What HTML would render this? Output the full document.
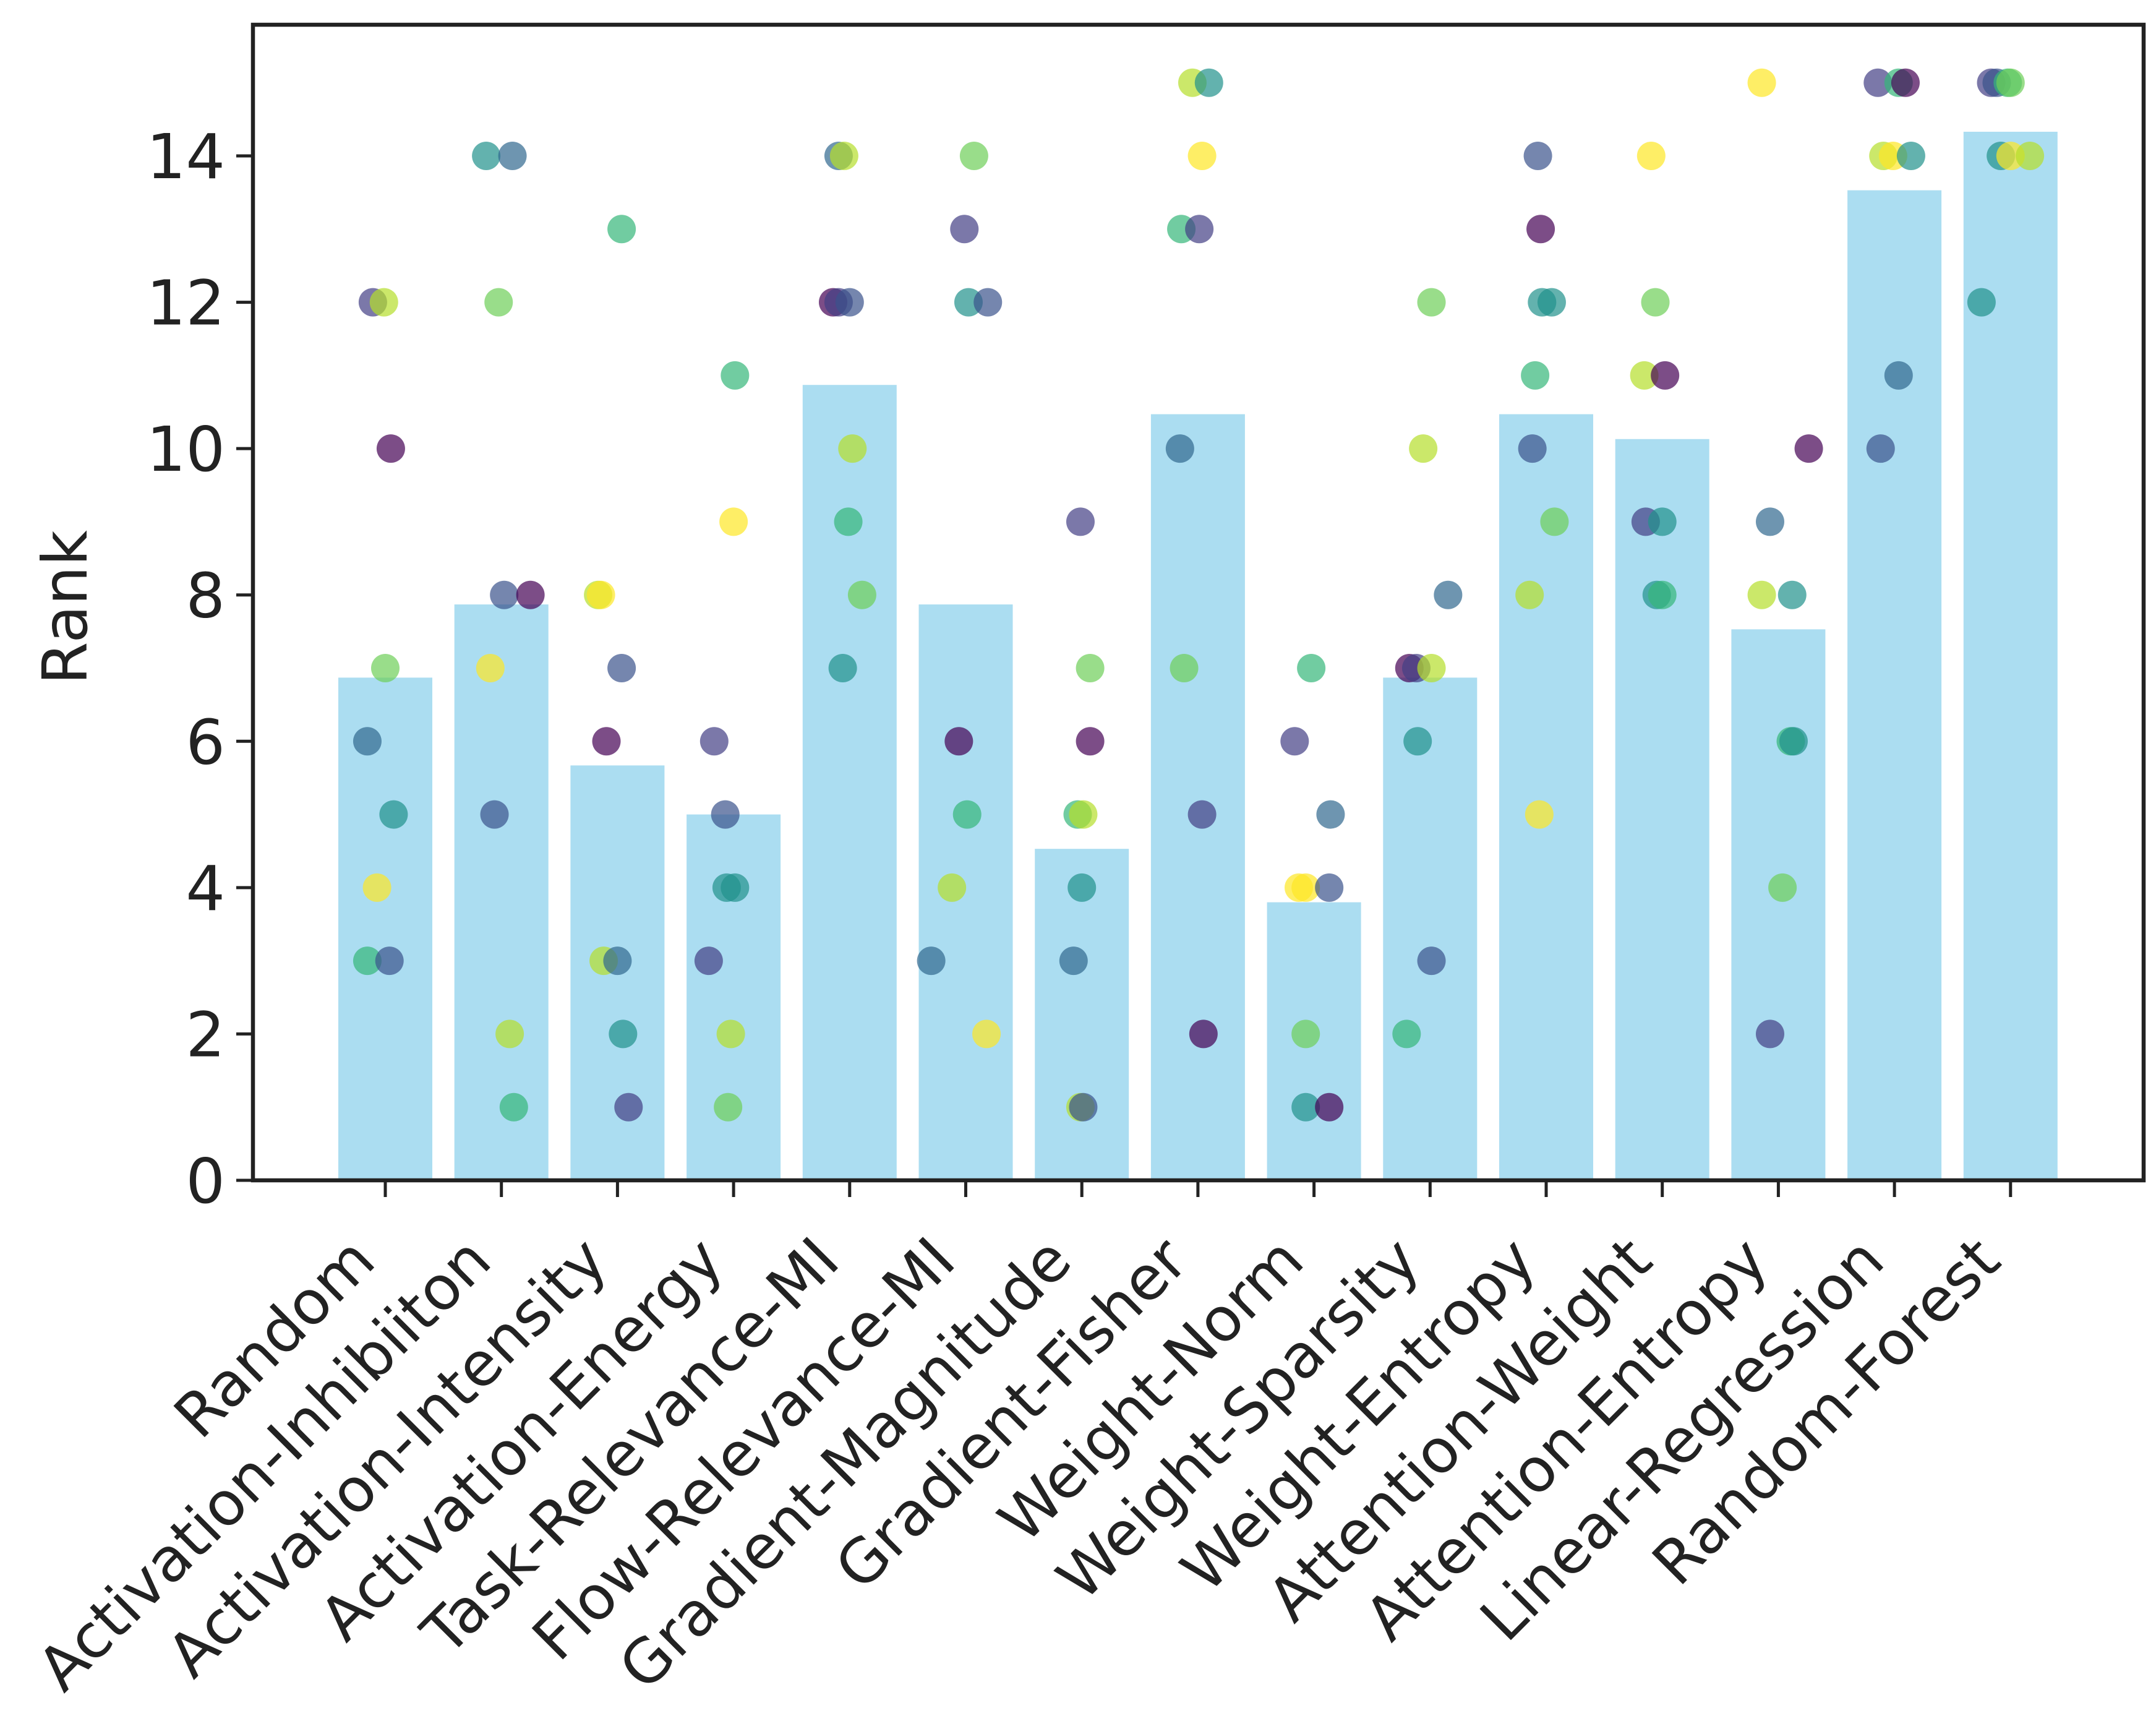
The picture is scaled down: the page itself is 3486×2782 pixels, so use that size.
<!DOCTYPE html>
<html><head><meta charset="utf-8">
<style>html,body{margin:0;padding:0;background:#fff;}svg{display:block;}</style>
</head><body>
<svg id="chart" width="3486" height="2782" viewBox="0 0 3486 2782" xmlns="http://www.w3.org/2000/svg" font-family="DejaVu Sans, Liberation Sans, sans-serif"></svg>
<script>
const categories = ["Random","Activation-Inhibiiton","Activation-Intensity","Activation-Energy","Task-Relevance-MI","Flow-Relevance-MI","Gradient-Magnitude","Gradient-Fisher","Weight-Norm","Weight-Sparsity","Weight-Entropy","Attention-Weight","Attention-Entropy","Linear-Regression","Random-Forest"];
const meanRanks = [6.87,7.87,5.67,5.0,10.87,7.87,4.53,10.47,3.8,6.87,10.47,10.13,7.53,13.53,14.33];
const yTicks = [0,2,4,6,8,10,12,14];
// per-category points: [rank, jitter (1/84 of category spacing), colour key]
const pointRanks = [
 [[12,-9,'p'],[12,-1,'yg'],[10,4,'dp'],[7,0,'g'],[6,-13,'tb'],[5,6,'t'],[4,-6,'y'],[3,-13,'gt'],[3,3,'pb']],
 [[14,-11,'t'],[14,8,'tb'],[12,-2,'g'],[8,2,'pb'],[8,21,'dp'],[7,-8,'y'],[5,-5,'pb'],[2,6,'yg'],[1,9,'gt']],
 [[13,3,'gt'],[8,-14,'yg'],[8,-12,'y'],[7,3,'pb'],[6,-8,'dp'],[3,-10,'yg'],[3,0,'tb'],[2,4,'t'],[1,8,'p']],
 [[11,1,'gt'],[9,0,'y'],[6,-14,'p'],[5,-6,'pb'],[4,-5,'t'],[4,1,'t'],[3,-18,'p'],[2,-2,'yg'],[1,-4,'g']],
 [[14,-8,'tb'],[14,-4,'yg'],[12,-12,'dp'],[12,-8,'p'],[12,0,'pb'],[10,2,'yg'],[9,-1,'gt'],[8,9,'g'],[7,-5,'t']],
 [[14,6,'g'],[13,-1,'p'],[12,2,'t'],[12,16,'pb'],[6,-5,'dp'],[5,1,'gt'],[4,-10,'yg'],[3,-25,'tb'],[2,15,'y']],
 [[9,-1,'p'],[7,6,'g'],[6,6,'dp'],[5,-3,'gt'],[5,1,'yg'],[4,0,'t'],[3,-6,'tb'],[1,-1,'yg'],[1,1,'pb']],
 [[15,-4,'yg'],[15,8,'t'],[14,3,'y'],[13,-12,'gt'],[13,1,'p'],[10,-13,'tb'],[7,-10,'g'],[5,3,'p'],[2,4,'dp']],
 [[7,-2,'gt'],[6,-14,'p'],[5,12,'tb'],[4,-11,'y'],[4,-6,'y'],[4,11,'pb'],[2,-6,'g'],[1,-6,'t'],[1,11,'dp']],
 [[12,1,'g'],[10,-5,'yg'],[8,13,'tb'],[7,-15,'dp'],[7,-10,'p'],[7,1,'yg'],[6,-9,'t'],[3,1,'pb'],[2,-17,'gt']],
 [[14,-6,'pb'],[13,-4,'dp'],[12,-3,'t'],[12,4,'t'],[11,-8,'gt'],[10,-10,'pb'],[9,6,'g'],[8,-12,'yg'],[5,-5,'y']],
 [[14,-8,'y'],[12,-5,'g'],[11,-13,'yg'],[11,2,'dp'],[9,-12,'p'],[9,0,'t'],[8,-4,'t'],[8,0,'gt']],
 [[15,-12,'y'],[10,22,'dp'],[9,-6,'tb'],[8,-12,'yg'],[8,10,'t'],[6,9,'gt'],[6,11,'t'],[4,3,'g'],[2,-6,'p']],
 [[15,-12,'p'],[15,3,'gt'],[15,8,'dp'],[14,-8,'yg'],[14,-1,'y'],[14,12,'t'],[11,3,'tb'],[10,-10,'pb']],
 [[15,-14,'p'],[15,-10,'pb'],[15,-2,'gt'],[15,0,'g'],[14,-7,'t'],[14,0,'y'],[14,14,'yg'],[12,-21,'t']]
];
const colors = {dp:'#440154',p:'#433e85',pb:'#3b528b',tb:'#31688e',t:'#21918c',gt:'#35b779',g:'#6ece58',yg:'#b5de2b',y:'#fde725'};

const svg = document.getElementById('chart');
const NS = 'http://www.w3.org/2000/svg';
const L=409, R=3466, T=40, B=1908;
const unit = (B-252)/14;
const xc = i => 623 + i*187.7;
const y = v => B - v*unit;
function mk(tag, attrs){const e=document.createElementNS(NS,tag);for(const k in attrs)e.setAttribute(k,attrs[k]);svg.appendChild(e);return e;}

meanRanks.forEach((v,i)=>{
  const r=mk('rect',{x:xc(i)-76,y:y(v),width:152,height:B-y(v),fill:'#87ceeb','fill-opacity':0.7});
  
  
});
pointRanks.forEach((pts,i)=>{
  pts.forEach(p=>{
    const c=mk('circle',{cx:xc(i)+p[1]/84*187.7,cy:y(p[0]),r:23,fill:colors[p[2]],'fill-opacity':0.7});
    
    
  });
});
const frame=mk('rect',{x:L,y:T,width:R-L,height:B-T,fill:'none',stroke:'#222',"stroke-width":6.5});


yTicks.forEach(t=>{
  mk('line',{x1:L-27,x2:L,y1:y(t),y2:y(t),stroke:'#222','stroke-width':5});
  const tx=mk('text',{x:L-45,y:y(t)+36,'text-anchor':'end','font-size':100,fill:'#222'});
  tx.textContent=t;
  
  
});
categories.forEach((c,i)=>{
  mk('line',{x1:xc(i),x2:xc(i),y1:B,y2:B+27,stroke:'#222','stroke-width':5});
  const ax=xc(i)-12, ay=B+135;
  const tx=mk('text',{x:ax,y:ay,'text-anchor':'end','font-size':98,fill:'#222',transform:`rotate(-45 ${ax} ${ay})`});
  tx.textContent=c;
  
  
});
const yl=mk('text',{x:0,y:0,'text-anchor':'middle','font-size':100,fill:'#222',transform:`translate(140 ${(T+B)/2+8}) rotate(-90)`});
yl.textContent='Rank';


</script>
</body></html>
